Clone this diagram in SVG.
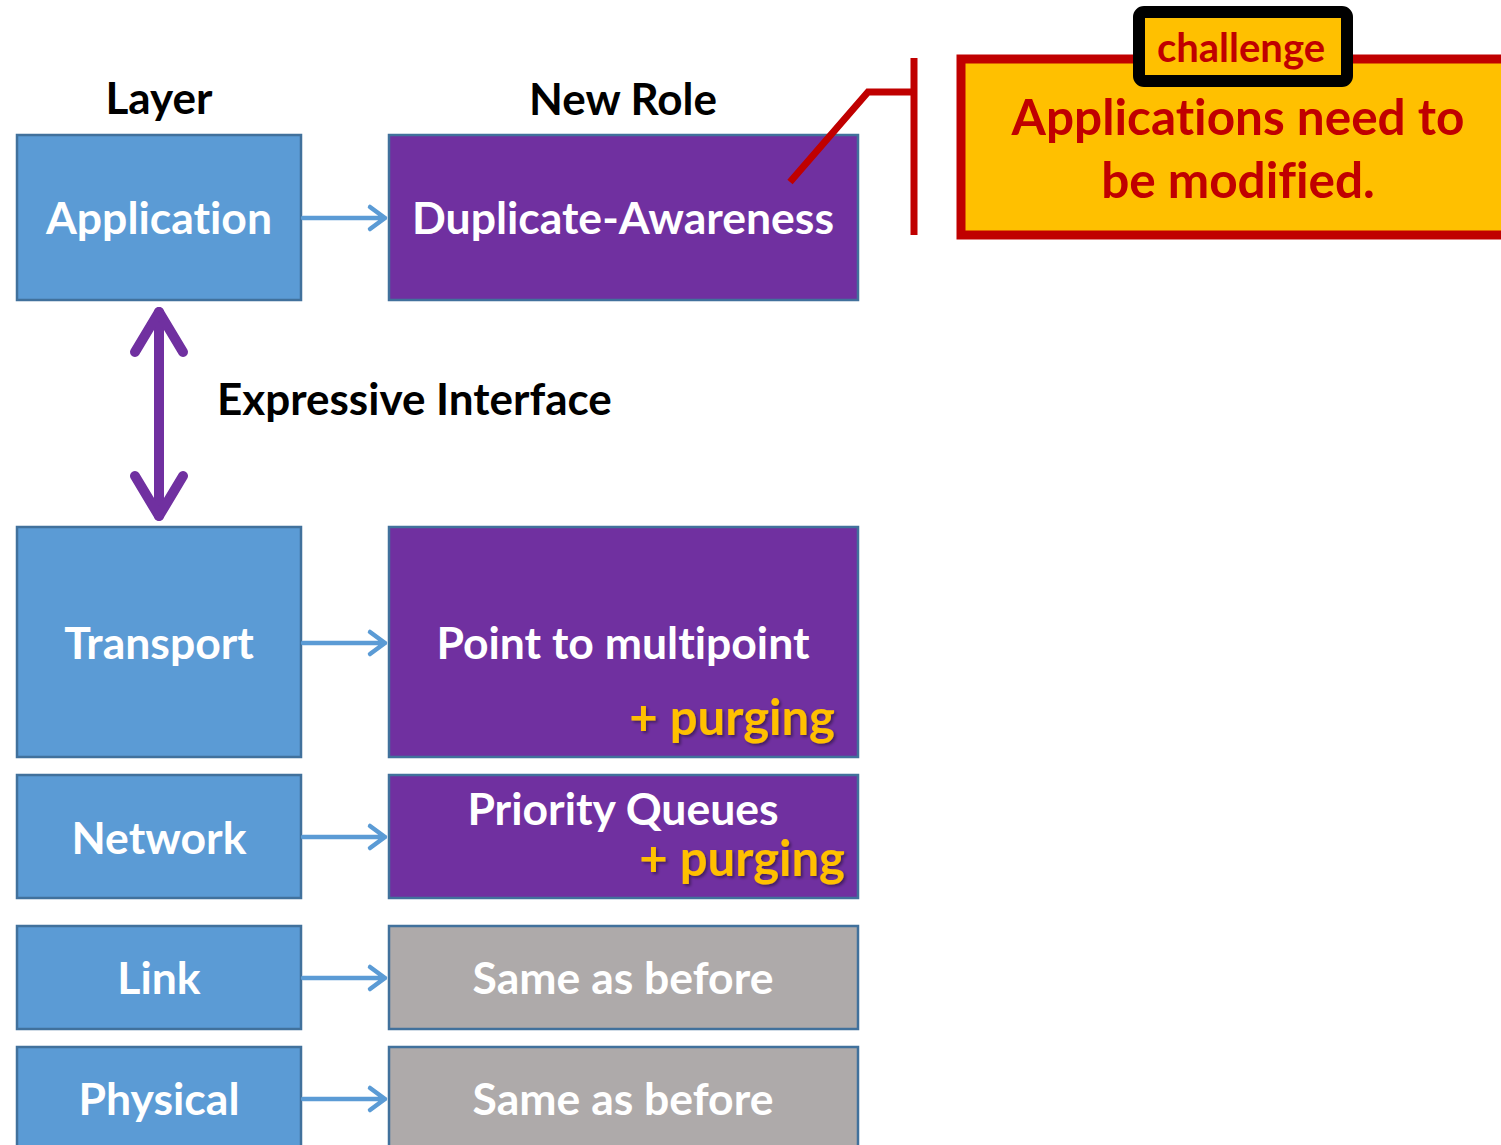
<svg xmlns="http://www.w3.org/2000/svg" width="1501" height="1145" viewBox="0 0 1501 1145">
<style>
.t{font-family:Lato,"Open Sans","Liberation Sans",sans-serif;font-weight:bold;text-anchor:middle;font-variant-ligatures:none}
.w{fill:#ffffff;font-size:44.5px}
.h{fill:#000000;font-size:44px}
.y{fill:#FFC000;font-size:49px;text-anchor:end}
.blue{fill:#5B9BD5;stroke:#41719C;stroke-width:2.5}
.pur{fill:#7030A0;stroke:#41719C;stroke-width:2.5}
.gray{fill:#AEAAAA;stroke:#41719C;stroke-width:2.5}
.arr{fill:none;stroke:#5B9BD5;stroke-width:4.5;stroke-linecap:round;stroke-linejoin:round}
</style>
<defs>
<filter id="sh" x="-10%" y="-10%" width="130%" height="130%"><feDropShadow dx="2" dy="2" stdDeviation="1.5" flood-color="#000" flood-opacity="0.4"/></filter>
</defs>
<rect width="1501" height="1145" fill="#ffffff"/>
<text class="t h" x="159" y="114">Layer</text>
<text class="t h" x="623" y="115">New Role</text>
<text class="t h" x="217" y="415" style="text-anchor:start">Expressive Interface</text>

<g id="application"><rect class="blue" x="17" y="135" width="284" height="165"/><text class="t w" x="159" y="234">Application</text></g>
<g id="duplicate"><rect class="pur" x="389" y="135" width="469" height="165"/><text class="t w" x="623" y="234">Duplicate-Awareness</text></g>
<g id="transport"><rect class="blue" x="17" y="527" width="284" height="230"/><text class="t w" x="159" y="659">Transport</text></g>
<g id="p2mp"><rect class="pur" x="389" y="527" width="469" height="230"/><text class="t w" x="623" y="659">Point to multipoint</text><text class="t y" x="835" y="735" filter="url(#sh)">+ purging</text></g>
<g id="network"><rect class="blue" x="17" y="775" width="284" height="123"/><text class="t w" x="159" y="854">Network</text></g>
<g id="pq"><rect class="pur" x="389" y="775" width="469" height="123"/><text class="t w" x="623" y="825">Priority Queues</text><text class="t y" x="845" y="876" filter="url(#sh)">+ purging</text></g>
<g id="link"><rect class="blue" x="17" y="926" width="284" height="103"/><text class="t w" x="159" y="994">Link</text></g>
<g id="same1"><rect class="gray" x="389" y="926" width="469" height="103"/><text class="t w" x="623" y="994">Same as before</text></g>
<g id="physical"><rect class="blue" x="17" y="1047" width="284" height="110"/><text class="t w" x="159" y="1115">Physical</text></g>
<g id="same2"><rect class="gray" x="389" y="1047" width="469" height="110"/><text class="t w" x="623" y="1115">Same as before</text></g>

<g id="connectors">
<path class="arr" d="M303 218H385M370 207L385 218L370 229"/>
<path class="arr" d="M303 643H385M370 632L385 643L370 654"/>
<path class="arr" d="M303 837H385M370 826L385 837L370 848"/>
<path class="arr" d="M303 978H385M370 967L385 978L370 989"/>
<path class="arr" d="M303 1099H385M370 1088L385 1099L370 1110"/>
<g id="interface" fill="none" stroke="#7030A0" stroke-width="10" stroke-linecap="round" stroke-linejoin="round">
<path d="M159 312V516"/>
<path d="M135 352L159 312L183 352"/>
<path d="M135 476L159 516L183 476"/>
</g>
<path d="M790 182L868 92H913M914 58V235" fill="none" stroke="#C00000" stroke-width="7"/>
</g>

<g id="callout">
<rect x="961" y="59" width="550" height="176" fill="#FFC000" stroke="#C00000" stroke-width="9"/>
<text class="t" x="1238" y="135" style="fill:#C00000;font-size:49.5px">Applications need to</text>
<text class="t" x="1238" y="198" style="fill:#C00000;font-size:49.5px">be modified.</text>
</g>
<g id="challenge">
<rect x="1139" y="12" width="208" height="69" rx="5" fill="#FFC000" stroke="#000000" stroke-width="12"/>
<text class="t" x="1241" y="62" style="fill:#C00000;font-size:40px">challenge</text>
</g>
</svg>
